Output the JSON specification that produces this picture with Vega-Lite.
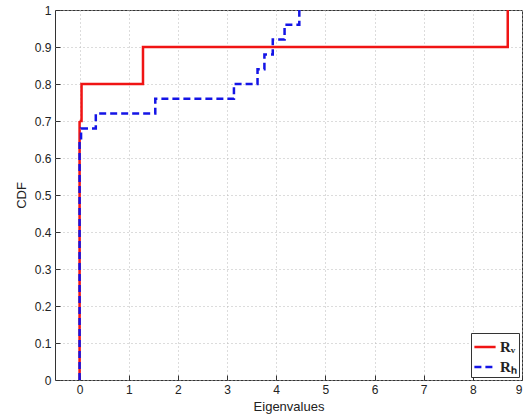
{
  "$schema": "https://vega.github.io/schema/vega-lite/v6.json",
  "width": 467,
  "height": 370,
  "autosize": {"type": "none"},
  "padding": {"left": 55, "top": 10, "right": 10, "bottom": 38},
  "background": "white",
  "config": {
    "font": "Liberation Sans",
    "view": {"stroke": "#333333", "strokeWidth": 1},
    "axis": {
      "domain": false,
      "grid": true,
      "gridColor": "#b8b8b8",
      "gridDash": [1, 3],
      "gridWidth": 1,
      "tickColor": "#333333",
      "tickSize": -5,
      "labelPadding": 9,
      "labelFont": "Liberation Sans",
      "labelFontSize": 12,
      "labelColor": "#222222",
      "titleFont": "Liberation Sans",
      "titleFontSize": 13,
      "titleFontWeight": "normal",
      "titleColor": "#222222"
    },
    "legend": {
      "orient": "bottom-right",
      "offset": 3,
      "strokeColor": "#333333",
      "fillColor": "white",
      "padding": 2,
      "symbolType": "stroke",
      "symbolSize": 450,
      "symbolStrokeWidth": 2.5,
      "labelFont": "Liberation Serif",
      "labelFontWeight": "bold",
      "labelFontSize": 15,
      "labelColor": "#222222",
      "labelOffset": 3,
      "rowPadding": 0,
      "title": null
    }
  },
  "data": {
    "values": [
      {"series": "RV", "i": 0, "eigenvalue": 0, "cdf": 0},
      {"series": "RV", "i": 1, "eigenvalue": 0, "cdf": 0.7},
      {"series": "RV", "i": 2, "eigenvalue": 0.04, "cdf": 0.8},
      {"series": "RV", "i": 3, "eigenvalue": 1.29, "cdf": 0.9},
      {"series": "RV", "i": 4, "eigenvalue": 8.71, "cdf": 1.0},
      {"series": "RH", "i": 0, "eigenvalue": 0, "cdf": 0},
      {"series": "RH", "i": 1, "eigenvalue": 0, "cdf": 0.64},
      {"series": "RH", "i": 2, "eigenvalue": 0.03, "cdf": 0.68},
      {"series": "RH", "i": 3, "eigenvalue": 0.33, "cdf": 0.72},
      {"series": "RH", "i": 4, "eigenvalue": 1.54, "cdf": 0.76},
      {"series": "RH", "i": 5, "eigenvalue": 3.14, "cdf": 0.8},
      {"series": "RH", "i": 6, "eigenvalue": 3.62, "cdf": 0.84},
      {"series": "RH", "i": 7, "eigenvalue": 3.76, "cdf": 0.88},
      {"series": "RH", "i": 8, "eigenvalue": 3.93, "cdf": 0.92},
      {"series": "RH", "i": 9, "eigenvalue": 4.17, "cdf": 0.96},
      {"series": "RH", "i": 10, "eigenvalue": 4.47, "cdf": 1.0}
    ]
  },
  "mark": {"type": "line", "interpolate": "step-after", "strokeWidth": 2.5},
  "encoding": {
    "x": {
      "field": "eigenvalue",
      "type": "quantitative",
      "scale": {"domain": [-0.5, 9], "nice": false, "zero": false},
      "axis": {"values": [0, 1, 2, 3, 4, 5, 6, 7, 8, 9], "title": "Eigenvalues", "titlePadding": 5}
    },
    "y": {
      "field": "cdf",
      "type": "quantitative",
      "scale": {"domain": [0, 1], "nice": false},
      "axis": {"values": [0, 0.1, 0.2, 0.3, 0.4, 0.5, 0.6, 0.7, 0.8, 0.9, 1], "format": ".1~f", "title": "CDF", "titlePadding": 6}
    },
    "color": {
      "field": "series",
      "type": "nominal",
      "scale": {"domain": ["RV", "RH"], "range": ["#f01414", "#1414e6"]},
      "legend": {"title": null, "labelExpr": "datum.label == 'RV' ? 'Rᵥ' : 'Rₕ'"}
    },
    "strokeDash": {
      "field": "series",
      "type": "nominal",
      "scale": {"domain": ["RV", "RH"], "range": [[1, 0], [7, 4]]},
      "legend": {"title": null, "labelExpr": "datum.label == 'RV' ? 'Rᵥ' : 'Rₕ'"}
    },
    "order": {"field": "i", "type": "quantitative"}
  }
}
